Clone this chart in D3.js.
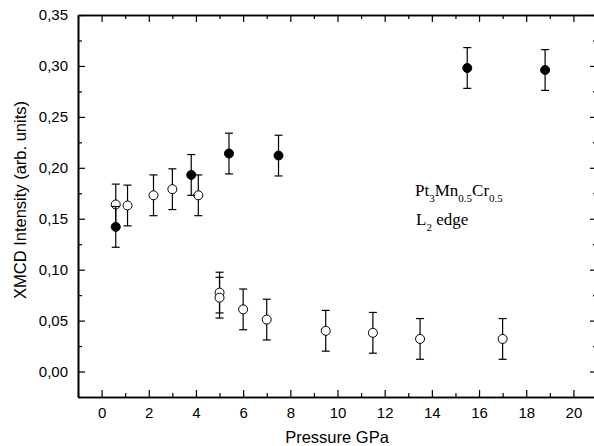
<!DOCTYPE html>
<html>
<head>
<meta charset="utf-8">
<script src="https://cdn.jsdelivr.net/npm/d3@7"></script>
<style>
  body { margin: 0; background: #fff; }
  svg { display: block; }
  .sans { font-family: Arial, "Liberation Sans", sans-serif; fill: #000; }
</style>
</head>
<body>
<div id="chart"></div>
<script>
// Pressure (GPa) and XMCD intensity
const filledP = [0.6, 3.8, 5.4, 7.5, 15.5, 18.8];
const filledI = [0.142, 0.193, 0.214, 0.212, 0.298, 0.296];
const openP = [0.6, 1.1, 2.2, 3.0, 4.1, 5.0, 5.0, 6.0, 7.0, 9.5, 11.5, 13.5, 17.0];
const openI = [0.164, 0.163, 0.173, 0.179, 0.173, 0.0775, 0.0725, 0.061, 0.051, 0.040, 0.038, 0.032, 0.032];
const errBar = 0.02;

const xTicks = [0, 2, 4, 6, 8, 10, 12, 14, 16, 18, 20];
const yTicks = [0, 0.05, 0.10, 0.15, 0.20, 0.25, 0.30, 0.35];

const width = 594, height = 446;
const margin = { top: 15, right: -3, bottom: 49, left: 78 };

const svg = d3.select("#chart").append("svg")
    .attr("width", width)
    .attr("height", height);

const x = d3.scaleLinear().domain([-1, 21]).range([margin.left, width - margin.right]);
const y = d3.scaleLinear().domain([-0.025, 0.35]).range([height - margin.bottom, margin.top]);

const fmt = d => d3.format(".2f")(d).replace(".", ",");
const xMinor = d3.range(-1, 22, 1).filter(v => v % 2 !== 0);
const yMinor = d3.range(-0.025, 0.35, 0.05);

// axes with inward ticks on all four sides
function axisGroup(axis, tr) {
    const g = svg.append("g").attr("transform", tr).call(axis);
    g.select(".domain").attr("stroke-width", 1.6);
    g.selectAll(".tick line").attr("stroke-width", 1.2);
    g.selectAll("text").attr("class", "sans").style("font-size", "15px");
    return g;
}

axisGroup(d3.axisBottom(x).tickValues(xTicks).tickSize(-7).tickPadding(10).tickSizeOuter(0),
    `translate(0,${y.range()[0]})`);
axisGroup(d3.axisBottom(x).tickValues(xMinor).tickSize(-4).tickFormat("").tickSizeOuter(0),
    `translate(0,${y.range()[0]})`);

axisGroup(d3.axisTop(x).tickValues(xTicks).tickSize(-7).tickFormat("").tickSizeOuter(0),
    `translate(0,${y.range()[1]})`);
axisGroup(d3.axisTop(x).tickValues(xMinor).tickSize(-4).tickFormat("").tickSizeOuter(0),
    `translate(0,${y.range()[1]})`);

axisGroup(d3.axisLeft(y).tickValues(yTicks).tickSize(-7).tickPadding(10).tickFormat(fmt).tickSizeOuter(0),
    `translate(${x.range()[0]},0)`);
axisGroup(d3.axisLeft(y).tickValues(yMinor).tickSize(-4).tickFormat("").tickSizeOuter(0),
    `translate(${x.range()[0]},0)`);

axisGroup(d3.axisRight(y).tickValues(yTicks).tickSize(-7).tickFormat("").tickSizeOuter(0),
    `translate(${x.range()[1]},0)`);
axisGroup(d3.axisRight(y).tickValues(yMinor).tickSize(-4).tickFormat("").tickSizeOuter(0),
    `translate(${x.range()[1]},0)`);

// axis titles
svg.append("text")
    .attr("class", "sans")
    .attr("x", 337)
    .attr("y", 443)
    .attr("text-anchor", "middle")
    .style("font-size", "16.5px")
    .text("Pressure GPa");

svg.append("text")
    .attr("class", "sans")
    .attr("transform", "translate(26,200) rotate(-90)")
    .attr("text-anchor", "middle")
    .style("font-size", "16.5px")
    .text("XMCD Intensity (arb. units)");

// error bars + markers
function drawSeries(ps, vs, fill) {
    const data = ps.map((p, i) => ({ p: p, v: vs[i] }));
    const g = svg.append("g");
    const bars = g.selectAll(".err").data(data).enter().append("g")
        .attr("stroke", "#000").attr("stroke-width", 1.2);
    bars.append("line")
        .attr("x1", d => x(d.p)).attr("x2", d => x(d.p))
        .attr("y1", d => y(d.v - errBar)).attr("y2", d => y(d.v + errBar));
    bars.append("line")
        .attr("x1", d => x(d.p) - 4).attr("x2", d => x(d.p) + 4)
        .attr("y1", d => y(d.v + errBar)).attr("y2", d => y(d.v + errBar));
    bars.append("line")
        .attr("x1", d => x(d.p) - 4).attr("x2", d => x(d.p) + 4)
        .attr("y1", d => y(d.v - errBar)).attr("y2", d => y(d.v - errBar));
    g.selectAll("circle").data(data).enter().append("circle")
        .attr("cx", d => x(d.p))
        .attr("cy", d => y(d.v))
        .attr("r", 4.5)
        .attr("fill", fill)
        .attr("stroke", "#000")
        .attr("stroke-width", 1);
}
drawSeries(openP, openI, "#fff");
drawSeries(filledP, filledI, "#000");

// sample label
const serif = "'Liberation Serif', 'Times New Roman', serif";
const t1 = svg.append("text").attr("x", 415).attr("y", 196)
    .style("font-family", serif).style("font-size", "17px");
t1.append("tspan").text("Pt");
t1.append("tspan").attr("dy", 6).style("font-size", "11px").text("3");
t1.append("tspan").attr("dy", -6).text("Mn");
t1.append("tspan").attr("dy", 6).style("font-size", "11px").text("0.5");
t1.append("tspan").attr("dy", -6).text("Cr");
t1.append("tspan").attr("dy", 6).style("font-size", "11px").text("0.5");
const t2 = svg.append("text").attr("x", 416).attr("y", 225)
    .style("font-family", serif).style("font-size", "17px");
t2.append("tspan").text("L");
t2.append("tspan").attr("dy", 6).style("font-size", "11px").text("2");
t2.append("tspan").attr("dy", -6).text(" edge");
</script>
</body>
</html>
